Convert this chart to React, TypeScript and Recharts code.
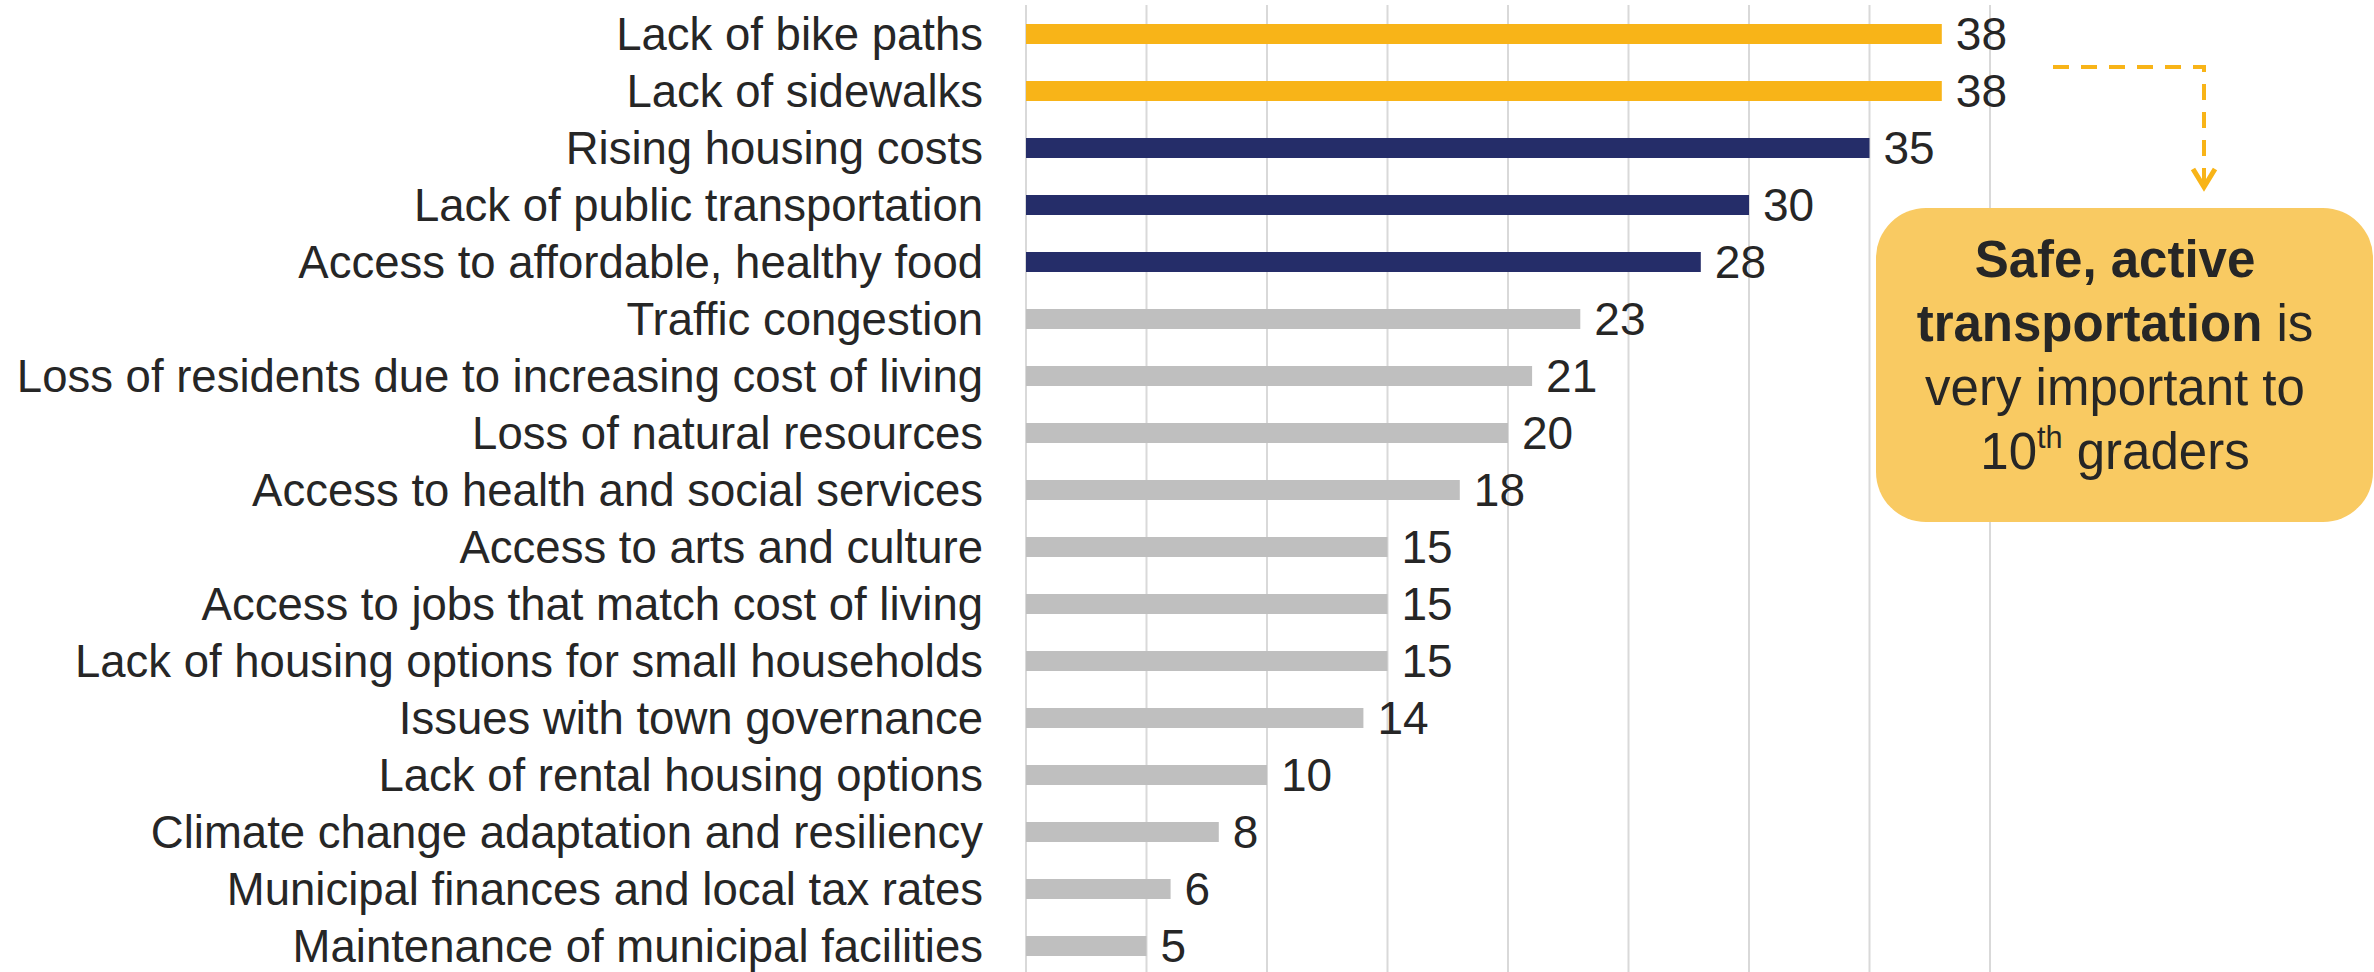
import React from "react";
import { BarChart, Bar, XAxis, YAxis, CartesianGrid, Cell, LabelList } from "recharts";

const categories = [
  "Lack of bike paths",
  "Lack of sidewalks",
  "Rising housing costs",
  "Lack of public transportation",
  "Access to affordable, healthy food",
  "Traffic congestion",
  "Loss of residents due to increasing cost of living",
  "Loss of natural resources",
  "Access to health and social services",
  "Access to arts and culture",
  "Access to jobs that match cost of living",
  "Lack of housing options for small households",
  "Issues with town governance",
  "Lack of rental housing options",
  "Climate change adaptation and resiliency",
  "Municipal finances and local tax rates",
  "Maintenance of municipal facilities",
];

const values = [38, 38, 35, 30, 28, 23, 21, 20, 18, 15, 15, 15, 14, 10, 8, 6, 5];

const groups = [
  "transport", "transport",
  "highlight", "highlight", "highlight",
  "other", "other", "other", "other", "other", "other", "other", "other", "other", "other", "other", "other",
];

const xTicks = [0, 5, 10, 15, 20, 25, 30, 35, 40];
const xDomain: [number, number] = [0, 40];

const groupColors: Record<string, string> = {
  transport: "#F8B418",
  highlight: "#252D69",
  other: "#BFBFBF",
};

const data = categories.map((label, i) => ({ label, value: values[i], group: groups[i] }));

const FONT = "'Liberation Sans', Arial, sans-serif";
const TEXT = "#262626";

const verticalGen = (props: any) => {
  const xAxis = props && props.xAxis;
  if (xAxis && typeof xAxis.scale === "function") {
    const pts = xTicks.map((t) => xAxis.scale(t)).filter((v: any) => typeof v === "number" && !isNaN(v));
    if (pts.length === xTicks.length) return pts;
  }
  const off = props.offset;
  return xTicks.map(
    (t) => off.left + ((t - xDomain[0]) / (xDomain[1] - xDomain[0])) * off.width
  );
};

export default function App() {
  return (
    <div
      style={{
        position: "absolute",
        left: 0,
        top: 0,
        width: 2374,
        height: 972,
        overflow: "hidden",
        background: "#ffffff",
        fontFamily: FONT,
      }}
    >
      <BarChart
        width={2374}
        height={976}
        data={data}
        layout="vertical"
        margin={{ top: 5, right: 384, bottom: 2, left: 0 }}
      >
        <CartesianGrid
          horizontal={false}
          stroke="#D9D9D9"
          strokeWidth={2}
          verticalCoordinatesGenerator={verticalGen}
        />
        <XAxis
          type="number"
          domain={xDomain}
          ticks={xTicks}
          tick={false}
          axisLine={false}
          tickLine={false}
          height={0}
        />
        <YAxis
          type="category"
          dataKey="label"
          width={1026}
          axisLine={false}
          tickLine={false}
          tickSize={0}
          tickMargin={43}
          interval={0}
          tick={{ fontSize: 45.5, fill: TEXT, fontFamily: FONT }}
        />
        <Bar dataKey="value" barSize={20} isAnimationActive={false}>
          {data.map((d, i) => (
            <Cell key={i} fill={groupColors[d.group]} />
          ))}
          <LabelList
            dataKey="value"
            position="right"
            offset={14}
            style={{ fontSize: 46, fill: TEXT, fontFamily: FONT }}
          />
        </Bar>
      </BarChart>

      <svg
        width={2374}
        height={972}
        style={{ position: "absolute", left: 0, top: 0, pointerEvents: "none" }}
      >
        <path
          d="M2053 67 H2204 V184"
          fill="none"
          stroke="#F8B418"
          strokeWidth={4}
          strokeDasharray="16 12"
        />
        <polyline
          points="2193,169 2204,187 2215,169"
          fill="none"
          stroke="#F8B418"
          strokeWidth={5}
        />
      </svg>

      <div
        style={{
          position: "absolute",
          left: 1876,
          top: 208,
          width: 497,
          height: 314,
          borderRadius: 50,
          background: "#F9CA62",
        }}
      />
      <div
        style={{
          position: "absolute",
          left: 1876,
          top: 228,
          width: 478,
          textAlign: "center",
          fontSize: 51,
          lineHeight: "64px",
          color: TEXT,
          fontFamily: FONT,
          whiteSpace: "nowrap",
        }}
      >
        <div style={{ fontWeight: "bold" }}>Safe, active</div>
        <div>
          <span style={{ fontWeight: "bold" }}>transportation</span> is
        </div>
        <div>very important to</div>
        <div>
          10<sup style={{ fontSize: "0.6em", lineHeight: 0, verticalAlign: "0.7em" }}>th</sup> graders
        </div>
      </div>
    </div>
  );
}
